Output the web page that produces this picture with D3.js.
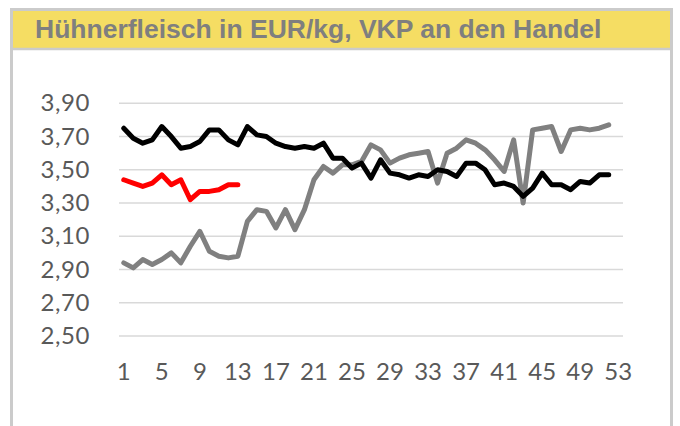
<!DOCTYPE html>
<html>
<head>
<meta charset="utf-8">
<script src="https://cdn.jsdelivr.net/npm/d3@7"></script>
<style>
  body { margin: 0; background: #fff; }
  svg { display: block; }
</style>
</head>
<body>
<svg width="680" height="426"></svg>
<script>
// weeks on the x axis, 1..53
var weeks = d3.range(1, 54);
var xTickLabels = [1, 5, 9, 13, 17, 21, 25, 29, 33, 37, 41, 45, 49, 53];
var yTickValues = [2.5, 2.7, 2.9, 3.1, 3.3, 3.5, 3.7, 3.9];

// series values per week
var blackValues = [3.75, 3.69, 3.66, 3.68, 3.76, 3.70, 3.63, 3.64, 3.67, 3.74,
  3.74, 3.68, 3.65, 3.76, 3.71, 3.70, 3.66, 3.64, 3.63, 3.64,
  3.63, 3.66, 3.57, 3.57, 3.51, 3.54, 3.45, 3.56, 3.48, 3.47,
  3.45, 3.47, 3.46, 3.50, 3.49, 3.46, 3.54, 3.54, 3.50, 3.41,
  3.42, 3.40, 3.34, 3.39, 3.48, 3.41, 3.41, 3.38, 3.43, 3.42,
  3.47, 3.47];
var grayValues = [2.94, 2.91, 2.96, 2.93, 2.96, 3.00, 2.94, 3.04, 3.13, 3.01,
  2.98, 2.97, 2.98, 3.19, 3.26, 3.25, 3.15, 3.26, 3.14, 3.26,
  3.44, 3.52, 3.48, 3.53, 3.53, 3.55, 3.65, 3.62, 3.54, 3.57,
  3.59, 3.60, 3.61, 3.42, 3.60, 3.63, 3.68, 3.66, 3.62, 3.56,
  3.49, 3.68, 3.30, 3.74, 3.75, 3.76, 3.61, 3.74, 3.75, 3.74,
  3.75, 3.77];
var redValues = [3.44, 3.42, 3.40, 3.42, 3.47, 3.41, 3.44, 3.32, 3.37, 3.37,
  3.38, 3.41, 3.41];

var title = "Hühnerfleisch in EUR/kg, VKP an den Handel";

var svg = d3.select("svg");

// frame and title band
svg.append("rect")
  .attr("x", 11.5).attr("y", 9.5)
  .attr("width", 660).attr("height", 440)
  .attr("fill", "#fff")
  .attr("stroke", "#cbcbcb").attr("stroke-width", 3);
svg.append("rect")
  .attr("x", 13).attr("y", 11)
  .attr("width", 657).attr("height", 37)
  .attr("fill", "#f5dd63");
svg.append("line")
  .attr("x1", 13).attr("x2", 670)
  .attr("y1", 49).attr("y2", 49)
  .attr("stroke", "#cbcbcb").attr("stroke-width", 2.5);
svg.append("text")
  .attr("x", 35).attr("y", 37.5)
  .attr("font-family", "'Liberation Sans', Arial, sans-serif")
  .attr("font-weight", "bold")
  .attr("font-size", "26.5px")
  .attr("fill", "#7f7f7f")
  .text(title);

var x = d3.scaleBand().domain(weeks).range([119, 623]).padding(0);
var y = d3.scaleLinear().domain([2.5, 3.9]).range([336, 103.3]);
var cx = function(w) { return x(w) + x.bandwidth() / 2; };

var fmt = function(d) { return d3.format(".2f")(d).replace(".", ","); };
var tickFont = "Lato, 'Open Sans', sans-serif";

// gridlines
svg.append("g")
  .selectAll("line")
  .data(yTickValues)
  .enter()
  .append("line")
  .attr("x1", 119).attr("x2", 623)
  .attr("y1", function(d) { return y(d); })
  .attr("y2", function(d) { return y(d); })
  .attr("stroke", "#d9d9d9")
  .attr("stroke-width", 1.5);

// y axis
var yAxis = svg.append("g")
  .attr("transform", "translate(119,0)")
  .call(d3.axisLeft(y).tickValues(yTickValues).tickSize(0).tickPadding(29).tickFormat(fmt));
yAxis.select(".domain").remove();
yAxis.selectAll("text")
  .style("font-family", tickFont)
  .style("font-size", "24px")
  .style("letter-spacing", "0.6px")
  .attr("fill", "#595959");

// x axis
var xAxis = svg.append("g")
  .attr("transform", "translate(0,336)")
  .call(d3.axisBottom(x).tickValues(xTickLabels).tickSize(0).tickPadding(27));
xAxis.select(".domain").remove();
xAxis.selectAll("text")
  .style("font-family", tickFont)
  .style("font-size", "24px")
  .attr("fill", "#595959");

var line = d3.line()
  .x(function(d, i) { return cx(weeks[i]); })
  .y(function(d) { return y(d); });

function drawSeries(values, color) {
  svg.append("path")
    .datum(values)
    .attr("d", line)
    .attr("fill", "none")
    .attr("stroke", color)
    .attr("stroke-width", 5)
    .attr("stroke-linejoin", "round")
    .attr("stroke-linecap", "round");
}

drawSeries(grayValues, "#808080");
drawSeries(blackValues, "#000000");
drawSeries(redValues, "#ff0000");
</script>
</body>
</html>
